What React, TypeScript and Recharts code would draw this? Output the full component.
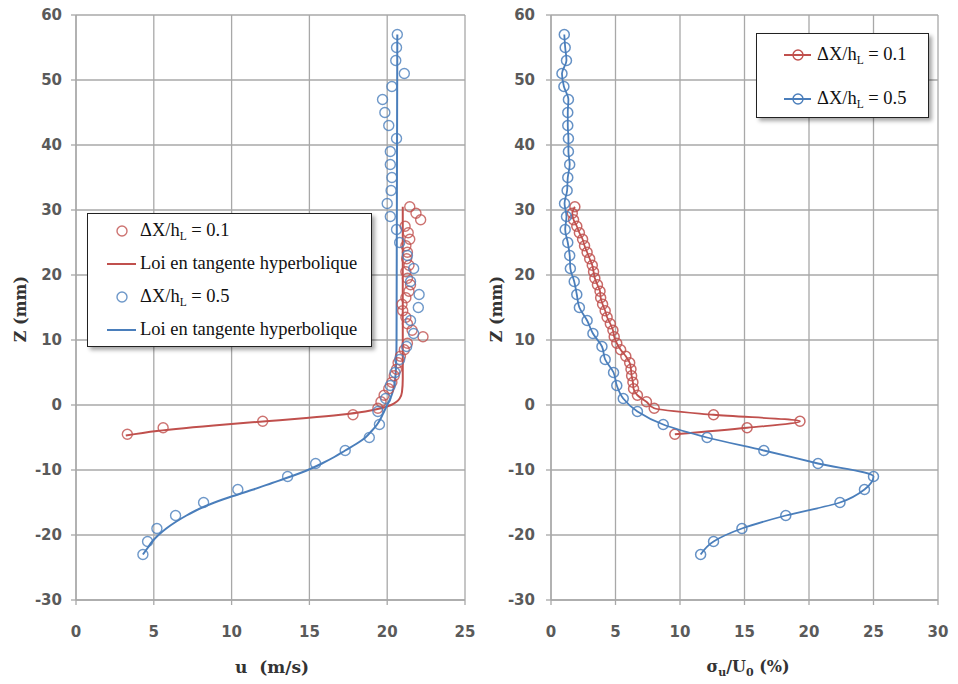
import { ScatterChart, Scatter, XAxis, YAxis, CartesianGrid, Label, Legend } from 'recharts'

// measured heights (mm)
const zBlue = [-23, -21, -19, -17, -15, -13, -11, -9, -7, -5, -3, -1, 1, 3, 5, 7, 9, 11, 13, 15, 17, 19, 21, 23, 25, 27, 29, 31, 33, 35, 37, 39, 41, 43, 45, 47, 49, 51, 53, 55, 57]
const zRed = [-4.5, -3.5, -2.5, -1.5, -0.5, 0.5, 1.5, 2.5, 3.5, 4.5, 5.5, 6.5, 7.5, 8.5, 9.5, 10.5, 11.5, 12.5, 13.5, 14.5, 15.5, 16.5, 17.5, 18.5, 19.5, 20.5, 21.5, 22.5, 23.5, 24.5, 25.5, 26.5, 27.5, 28.5, 29.5, 30.5]

// mean velocity u (m/s)
const uBlue = [4.3, 4.6, 5.2, 6.4, 8.2, 10.4, 13.6, 15.4, 17.3, 18.85, 19.5, 19.4, 19.9, 20.2, 20.5, 20.8, 21.25, 21.7, 21.5, 22.0, 22.05, 21.5, 21.7, 21.3, 20.8, 20.6, 20.2, 20.0, 20.25, 20.3, 20.2, 20.2, 20.6, 20.1, 19.85, 19.7, 20.3, 21.1, 20.55, 20.6, 20.65]
const uRed = [3.3, 5.6, 12.0, 17.8, 19.4, 19.6, 19.8, 20.1, 20.3, 20.45, 20.6, 20.7, 20.85, 21.1, 21.3, 22.3, 21.6, 21.3, 21.2, 21.0, 20.95, 21.2, 21.4, 21.5, 21.3, 21.2, 21.4, 21.25, 21.3, 21.2, 21.45, 21.35, 21.15, 22.15, 21.85, 21.45]

// tanh law fits
const zFitRed = [-4.7, -4, -3, -2.5, -2, -1.5, -1, -0.5, 0, 0.5, 1, 2, 4, 30.5]
const uFitRed = [3.2, 5.2, 9.6, 12.2, 14.8, 17.0, 18.6, 19.6, 20.25, 20.6, 20.8, 20.95, 21.0, 21.0]
const zFitBlue = [-23, -22, -21, -20, -19, -18, -17, -16, -15, -14, -13, -12, -11, -10, -9, -8, -7, -6, -5, -4, -3, -2, -1, 0, 1, 2, 3, 5, 10, 57]
const uFitBlue = [4.3, 4.6, 4.9, 5.3, 5.8, 6.4, 7.1, 7.9, 8.9, 10.1, 11.4, 12.6, 13.8, 14.9, 15.8, 16.6, 17.3, 18.0, 18.6, 19.0, 19.35, 19.6, 19.8, 20.0, 20.2, 20.35, 20.45, 20.55, 20.6, 20.65]

// turbulence intensity sigma_u/U0 (%)
const sBlue = [11.6, 12.6, 14.8, 18.2, 22.4, 24.3, 25.0, 20.7, 16.5, 12.1, 8.7, 6.7, 5.6, 5.1, 4.85, 4.2, 3.95, 3.25, 2.8, 2.2, 2.0, 1.8, 1.5, 1.45, 1.3, 1.1, 1.2, 1.05, 1.25, 1.3, 1.45, 1.35, 1.35, 1.3, 1.3, 1.35, 1.0, 0.85, 1.2, 1.1, 1.03]
const sRed = [9.6, 15.2, 19.3, 12.6, 8.0, 7.4, 6.7, 6.4, 6.35, 6.25, 6.2, 6.1, 5.8, 5.4, 5.1, 4.9, 4.8, 4.6, 4.35, 4.2, 4.0, 3.85, 3.8, 3.6, 3.4, 3.3, 3.2, 3.0, 2.8, 2.6, 2.45, 2.2, 2.0, 1.75, 1.65, 1.85]

const zTicks = [-30, -20, -10, 0, 10, 20, 30, 40, 50, 60]
const uTicks = [0, 5, 10, 15, 20, 25]
const sTicks = [0, 5, 10, 15, 20, 25, 30]

const pts = (xs: number[], zs: number[]) => zs.map((z, i) => ({ x: xs[i], z }))

const RED = '#c0504d'
const BLUE = '#4a7ebb'
const GRID = '#a8a8a8'
const tickStyle = { fontFamily: 'DejaVu Sans', fontWeight: 'bold', fontSize: 15, fill: '#5a5a5a' }
const serif = 'Liberation Serif'
const titleFont = 'DejaVu Serif'

const ring = (color: string, w = 1.4, op = 0.8) => (p: any) =>
  <circle cx={p.cx} cy={p.cy} r={5} fill="none" stroke={color} strokeWidth={w} strokeOpacity={op} />
const nothing = () => <g />

const Sub = ({ children }: { children: string }) => (
  <span style={{ fontSize: '0.62em', verticalAlign: '-0.35em' }}>{children}</span>
)
const DxLabel = ({ v }: { v: string }) => <span>ΔX/h<Sub>L</Sub> = {v}</span>

function LeftLegend() {
  const rows = [
    { kind: 'dot', color: RED, text: <DxLabel v="0.1" /> },
    { kind: 'line', color: RED, text: 'Loi en tangente hyperbolique' },
    { kind: 'dot', color: BLUE, text: <DxLabel v="0.5" /> },
    { kind: 'line', color: BLUE, text: 'Loi en tangente hyperbolique' },
  ]
  return (
    <div style={{ width: 283, height: 132, border: '1px solid #222', background: '#fff', boxShadow: '3px 3px 4px rgba(0,0,0,0.35)', fontFamily: serif, fontSize: 18.5, color: '#111' }}>
      {rows.map((r, i) => (
        <div key={i} style={{ height: 33, display: 'flex', alignItems: 'center' }}>
          <svg width={52} height={20} style={{ flex: 'none' }}>
            {r.kind === 'dot'
              ? <circle cx={34} cy={10} r={5} fill="none" stroke={r.color} strokeWidth={1.4} strokeOpacity={0.8} />
              : <line x1={19} x2={48} y1={10} y2={10} stroke={r.color} strokeWidth={2} />}
          </svg>
          <span style={{ whiteSpace: 'nowrap' }}>{r.text}</span>
        </div>
      ))}
    </div>
  )
}

function RightLegend() {
  const rows = [
    { color: RED, v: '0.1' },
    { color: BLUE, v: '0.5' },
  ]
  return (
    <div style={{ width: 171, height: 83, border: '1px solid #222', background: '#fff', boxShadow: '3px 3px 4px rgba(0,0,0,0.35)', fontFamily: serif, fontSize: 18.5, color: '#111' }}>
      {rows.map((r, i) => (
        <div key={i} style={{ height: 41, marginTop: i === 0 ? 0 : 3, display: 'flex', alignItems: 'center' }}>
          <svg width={60} height={20} style={{ flex: 'none' }}>
            <line x1={27} x2={54} y1={10} y2={10} stroke={r.color} strokeWidth={2} />
            <circle cx={41} cy={10} r={5} fill="none" stroke={r.color} strokeWidth={1.4} />
          </svg>
          <span style={{ whiteSpace: 'nowrap' }}><DxLabel v={r.v} /></span>
        </div>
      ))}
    </div>
  )
}

export default function App() {
  return (
    <div style={{ position: 'absolute', left: 0, top: 0, width: 958, height: 684, background: '#fff' }}>
      <div style={{ position: 'absolute', left: 0, top: 0 }}>
        <ScatterChart width={480} height={684} margin={{ top: 15, right: 15, bottom: 24, left: 0 }}>
          <CartesianGrid stroke={GRID} strokeWidth={1.3} />
          <XAxis type="number" dataKey="x" domain={[0, 25]} ticks={uTicks} height={60} tickSize={5}
            tickMargin={21} tick={tickStyle} stroke={GRID} strokeWidth={1.3}>
            <Label content={() => (
              <text x={272} y={673} textAnchor="middle" fontFamily={titleFont} fontWeight="bold" fontSize={17}
                fill="#333" style={{ whiteSpace: 'pre' }}>{'u  (m/s)'}</text>
            )} />
          </XAxis>
          <YAxis type="number" dataKey="z" domain={[-30, 60]} ticks={zTicks} width={76} tickSize={5}
            tickMargin={9} tick={tickStyle} stroke={GRID} strokeWidth={1.3}>
            <Label content={() => (
              <text x={20} y={309} transform="rotate(-90, 20, 309)" textAnchor="middle" dominantBaseline="central"
                fontFamily={titleFont} fontWeight="bold" fontSize={16} fill="#333">Z (mm)</text>
            )} />
          </YAxis>
          <Legend verticalAlign="middle" align="center" content={() => <LeftLegend />}
            wrapperStyle={{ position: 'absolute', left: 87, top: 213, width: 285, height: 134 }} />
          <Scatter name="fit01" data={pts(uFitRed, zFitRed)} shape={nothing} line={{ stroke: RED, strokeWidth: 2 }}
            lineJointType="monotoneY" isAnimationActive={false} legendType="none" />
          <Scatter name="fit05" data={pts(uFitBlue, zFitBlue)} shape={nothing} line={{ stroke: BLUE, strokeWidth: 2 }}
            lineJointType="monotoneY" isAnimationActive={false} legendType="none" />
          <Scatter name="dx01" data={pts(uRed, zRed)} shape={ring(RED)} isAnimationActive={false} />
          <Scatter name="dx05" data={pts(uBlue, zBlue)} shape={ring(BLUE)} isAnimationActive={false} />
        </ScatterChart>
      </div>

      <div style={{ position: 'absolute', left: 480, top: 0 }}>
        <ScatterChart width={478} height={684} margin={{ top: 15, right: 20, bottom: 24, left: 0 }}>
          <CartesianGrid stroke={GRID} strokeWidth={1.3} />
          <XAxis type="number" dataKey="x" domain={[0, 30]} ticks={sTicks} height={60} tickSize={5}
            tickMargin={21} tick={tickStyle} stroke={GRID} strokeWidth={1.3}>
            <Label content={() => (
              <text x={268} y={672} textAnchor="middle" fontFamily={titleFont} fontWeight="bold" fontSize={16} fill="#333">
                <tspan>σ</tspan><tspan dy={4} fontSize={11}>u</tspan><tspan dy={-4}>/U</tspan><tspan dy={4} fontSize={11}>0</tspan><tspan dy={-4}> (%)</tspan>
              </text>
            )} />
          </XAxis>
          <YAxis type="number" dataKey="z" domain={[-30, 60]} ticks={zTicks} width={71} tickSize={5}
            tickMargin={11} tick={tickStyle} stroke={GRID} strokeWidth={1.3}>
            <Label content={() => (
              <text x={16} y={309} transform="rotate(-90, 16, 309)" textAnchor="middle" dominantBaseline="central"
                fontFamily={titleFont} fontWeight="bold" fontSize={16} fill="#333">Z (mm)</text>
            )} />
          </YAxis>
          <Legend verticalAlign="middle" align="center" content={() => <RightLegend />}
            wrapperStyle={{ position: 'absolute', left: 276, top: 33, width: 173, height: 85 }} />
          <Scatter name="dx01" data={pts(sRed, zRed)} shape={ring(RED, 1.5, 0.85)} line={{ stroke: RED, strokeWidth: 1.8 }}
            lineJointType="monotoneY" isAnimationActive={false} />
          <Scatter name="dx05" data={pts(sBlue, zBlue)} shape={ring(BLUE, 1.5, 0.85)} line={{ stroke: BLUE, strokeWidth: 1.8 }}
            lineJointType="monotoneY" isAnimationActive={false} />
        </ScatterChart>
      </div>
    </div>
  )
}
